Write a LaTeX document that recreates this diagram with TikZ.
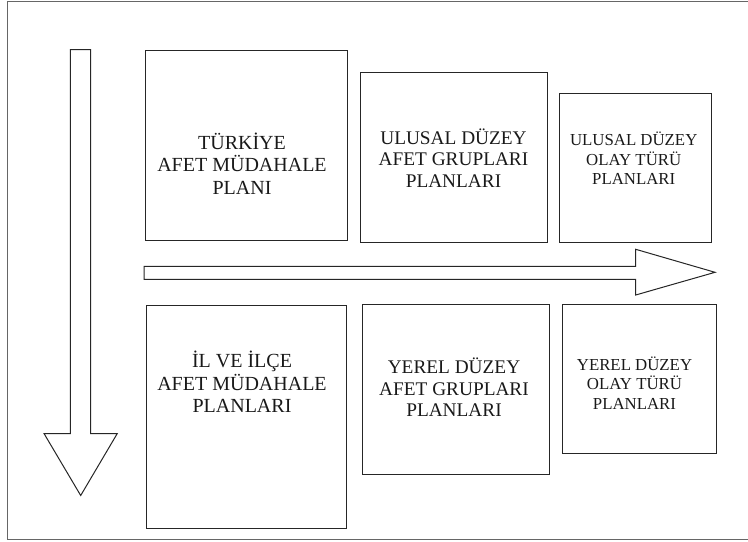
\documentclass[tikz,border=0pt]{standalone}
\usepackage{fontspec}
\setmainfont{Liberation Serif}
\begin{document}
\begin{tikzpicture}[x=1bp,y=-1bp,
  box/.style={draw=black!85,line width=1bp},
  arrowshape/.style={draw=black!85,line width=1bp,fill=white,line join=miter},
  lbl/.style={align=center,inner sep=0pt,text=black!90},
  big/.style={lbl,font=\fontsize{20bp}{22.5bp}\selectfont},
  mid/.style={lbl,font=\fontsize{19.3bp}{21.5bp}\selectfont},
  sml/.style={lbl,font=\fontsize{16.8bp}{19.5bp}\selectfont}]
\useasboundingbox (0,0) rectangle (748,542);
% outer frame
\draw[black!60,line width=1.6bp] (760,1.5) -- (7.5,1.5) -- (7.5,539.5) -- (760,539.5);
% vertical arrow
\draw[arrowshape] (70.3,49.7) -- (90.7,49.7) -- (90.7,433.5) -- (117.3,433.5)
  -- (80.7,495.5) -- (44,433.5) -- (70.3,433.5) -- cycle;
% horizontal arrow
\draw[arrowshape] (144,266.5) -- (635.7,266.5) -- (635.7,249.3) -- (715,272.3)
  -- (635.7,295) -- (635.7,279.3) -- (144,279.3) -- cycle;
% boxes
\draw[box] (145.7,50.7) rectangle (347.3,240.5) coordinate (b1);
\draw[box] (360.7,72.3) rectangle (547.3,242.7);
\draw[box] (559,93.3) rectangle (711.7,242.7);
\draw[box] (146,305) rectangle (346,528.5);
\draw[box] (362.7,304) rectangle (549.3,474.3);
\draw[box] (562.3,304) rectangle (716,453.5);
% labels
\node[big] (t1) at (242,163.5) {TÜRKİYE\\AFET MÜDAHALE\\PLANI};
\node[mid] (t2) at (453.5,158) {ULUSAL DÜZEY\\AFET GRUPLARI\\PLANLARI};
\node[sml] (t3) at (633.7,158.5) {ULUSAL DÜZEY\\OLAY TÜRÜ\\PLANLARI};
\node[big] (t4) at (242,382) {İL VE İLÇE\\AFET MÜDAHALE\\PLANLARI};
\node[mid] (t5) at (454,387.5) {YEREL DÜZEY\\AFET GRUPLARI\\PLANLARI};
\node[sml] (t6) at (634.5,383) {YEREL DÜZEY\\OLAY TÜRÜ\\PLANLARI};
\end{tikzpicture}
\end{document}
